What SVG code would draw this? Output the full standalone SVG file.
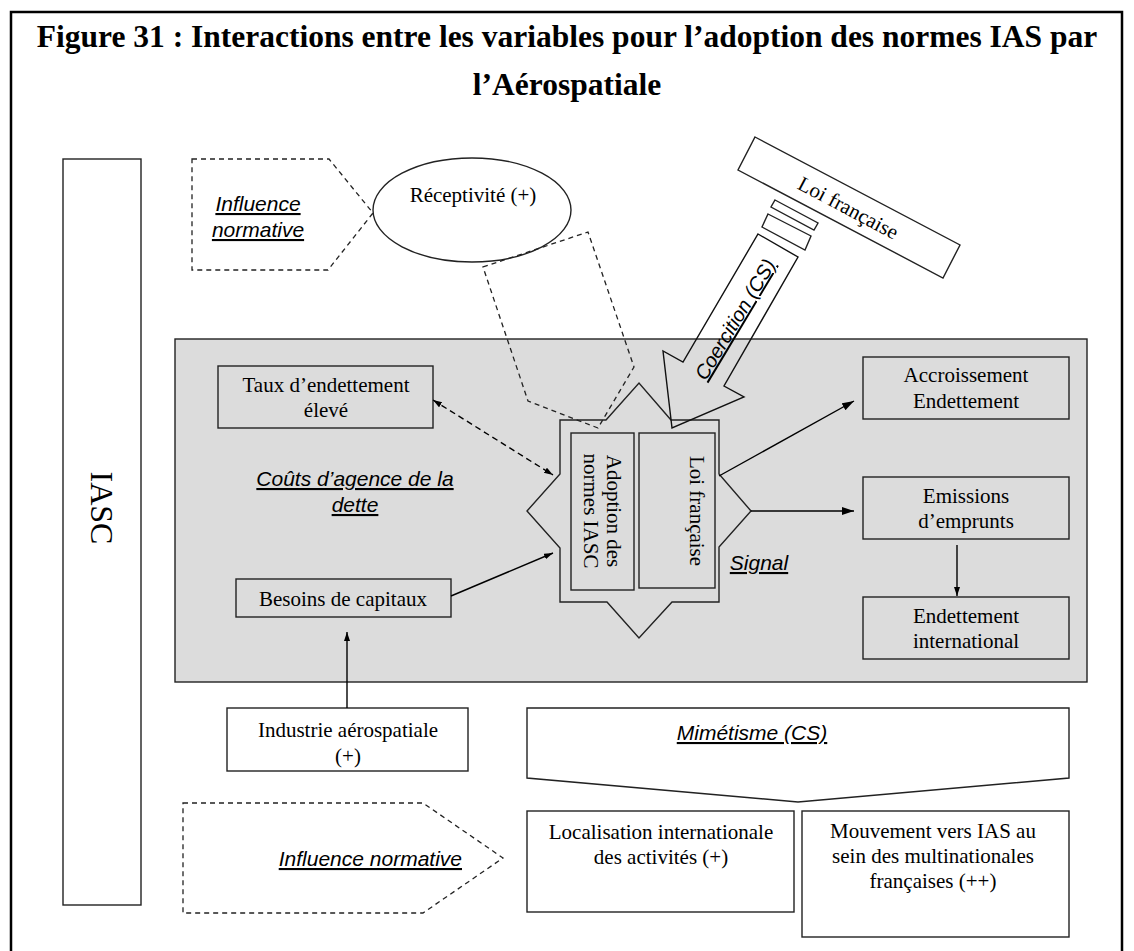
<svg xmlns="http://www.w3.org/2000/svg" width="1134" height="951" viewBox="0 0 1134 951">
<style>
.s{font-family:"Liberation Serif","Times New Roman",serif;font-size:21px;fill:#000;text-anchor:middle}
.t{font-family:"Liberation Serif","Times New Roman",serif;font-size:31.5px;font-weight:bold;fill:#000;text-anchor:middle}
.lab{font-family:"Liberation Sans",Arial,sans-serif;font-size:21px;font-style:italic;text-decoration:underline;fill:#000;text-anchor:middle}
.box{fill:none;stroke:#222;stroke-width:1.4}
.wbox{fill:#fff;stroke:#222;stroke-width:1.4}
.dash{fill:none;stroke:#222;stroke-width:1.3;stroke-dasharray:5,4}
.ln{fill:none;stroke:#000;stroke-width:1.4}
</style>
<defs>
<marker id="ah" markerUnits="userSpaceOnUse" markerWidth="13" markerHeight="9" refX="12" refY="4" orient="auto-start-reverse">
<path d="M0,0 L12,4 L0,8 z" fill="#000"/>
</marker>
<marker id="ahs" markerUnits="userSpaceOnUse" markerWidth="10" markerHeight="7" refX="9" refY="3" orient="auto-start-reverse">
<path d="M0,0 L9,3 L0,6 z" fill="#000"/>
</marker>
</defs>
<rect width="1134" height="951" fill="#fff"/>
<path d="M11,951 V12 H1122 V951" fill="none" stroke="#000" stroke-width="2.5"/>
<text class="t" x="567" y="47">Figure 31 : Interactions entre les variables pour l’adoption des normes IAS par</text>
<text class="t" x="567" y="95">l’Aérospatiale</text>

<g id="iasc">
<rect x="63" y="159" width="78" height="746" class="wbox"/>
<text class="s" style="font-size:32px" transform="translate(91,508) rotate(90)">IASC</text>
</g>

<g id="influence-top">
<polygon points="192,159 329,159 373,213 328,270 192,270" class="dash"/>
<text class="lab" x="258" y="211">Influence</text>
<text class="lab" x="258" y="237">normative</text>
</g>

<g id="receptivite">
<ellipse cx="472" cy="210" rx="99" ry="52" class="wbox"/>
<text class="s" x="473" y="202">Réceptivité (+)</text>
</g>

<g id="zone-dette">
<rect x="175" y="339" width="912" height="343" fill="#dcdcdc" stroke="#222" stroke-width="1.4"/>
<text class="lab" x="355" y="486">Coûts d’agence de la</text>
<text class="lab" x="355" y="512">dette</text>
<text class="lab" x="759" y="570">Signal</text>
</g>

<g id="adoption">
<polygon points="560,420 606,420 639,383 671,420 719,420 719,474 751,511 719,547 719,602 672,602 639,638 607,602 560,602 560,548 527,511 560,474" fill="#dcdcdc" stroke="#222" stroke-width="1.4"/>
<rect x="571" y="433" width="63" height="157" class="box"/>
<text class="s" transform="translate(607,511) rotate(90)">Adoption des</text>
<text class="s" transform="translate(584,511) rotate(90)">normes IASC</text>
<rect x="639" y="433" width="76" height="155" class="box"/>
<text class="s" transform="translate(690,511) rotate(90)">Loi française</text>
</g>

<g id="taux">
<rect x="218" y="366" width="215" height="62" class="box"/>
<text class="s" x="326" y="392">Taux d’endettement</text>
<text class="s" x="326" y="417">élevé</text>
</g>

<g id="besoins">
<rect x="236" y="579" width="215" height="38" class="box"/>
<text class="s" x="343" y="606">Besoins de capitaux</text>
</g>

<g id="accroissement">
<rect x="863" y="357" width="206" height="62" class="box"/>
<text class="s" x="966" y="382">Accroissement</text>
<text class="s" x="966" y="408">Endettement</text>
</g>

<g id="emissions">
<rect x="863" y="477" width="206" height="62" class="box"/>
<text class="s" x="966" y="503">Emissions</text>
<text class="s" x="966" y="528">d’emprunts</text>
</g>

<g id="endettement-international">
<rect x="863" y="597" width="206" height="62" class="box"/>
<text class="s" x="966" y="623">Endettement</text>
<text class="s" x="966" y="648">international</text>
</g>

<g id="influence-receptivite">
<polygon points="483,267 588,232 634,367 598,428 528,401" class="dash"/>
</g>

<g id="coercition">
<polygon points="758,234 798,257 724,386 744,397 672,428 663,351 683,362" fill="none" stroke="#111" stroke-width="1.4"/>
<polygon points="768,214 811,236 805,250 762,227" class="wbox"/>
<polygon points="775,200 818,223 814,230 771,207" class="wbox"/>
<text class="lab" style="font-size:20px" transform="translate(741,323) rotate(-59)">Coercition (CS)</text>
</g>

<g id="loi-francaise">
<polygon points="755,137 960,245 943,278 738,170" class="wbox"/>
<text class="s" transform="translate(845,214) rotate(28)">Loi française</text>
</g>

<g id="industrie">
<rect x="227" y="708" width="241" height="63" class="wbox"/>
<text class="s" x="348" y="737">Industrie aérospatiale</text>
<text class="s" x="348" y="763">(+)</text>
</g>

<g id="mimetisme">
<polygon points="527,708 1069,708 1069,778 798,802 527,778" class="wbox"/>
<text class="lab" x="752" y="740">Mimétisme (CS)</text>
</g>

<g id="influence-bottom">
<polygon points="183,803 423,803 503,858 423,913 183,913" class="dash"/>
<text class="lab" x="462" y="866" style="text-anchor:end">Influence normative</text>
</g>

<g id="localisation">
<rect x="527" y="811" width="267" height="101" class="wbox"/>
<text class="s" x="661" y="839">Localisation internationale</text>
<text class="s" x="661" y="864">des activités (+)</text>
</g>

<g id="mouvement">
<rect x="802" y="811" width="267" height="126" class="wbox"/>
<text class="s" x="933" y="838">Mouvement vers IAS au</text>
<text class="s" x="933" y="863">sein des multinationales</text>
<text class="s" x="933" y="888">françaises (++)</text>
</g>

<g id="connectors">
<line x1="433" y1="400" x2="553" y2="475" class="ln" stroke-dasharray="6,4" marker-start="url(#ahs)" marker-end="url(#ahs)"/>
<line x1="451" y1="596" x2="553" y2="553" class="ln" marker-end="url(#ahs)"/>
<line x1="347" y1="708" x2="347" y2="632" class="ln" marker-end="url(#ahs)"/>
<line x1="719" y1="476" x2="854" y2="401" class="ln" marker-end="url(#ah)"/>
<line x1="751" y1="511" x2="854" y2="511" class="ln" marker-end="url(#ah)"/>
<line x1="957" y1="545" x2="957" y2="596" class="ln" marker-end="url(#ahs)"/>
</g>
</svg>
